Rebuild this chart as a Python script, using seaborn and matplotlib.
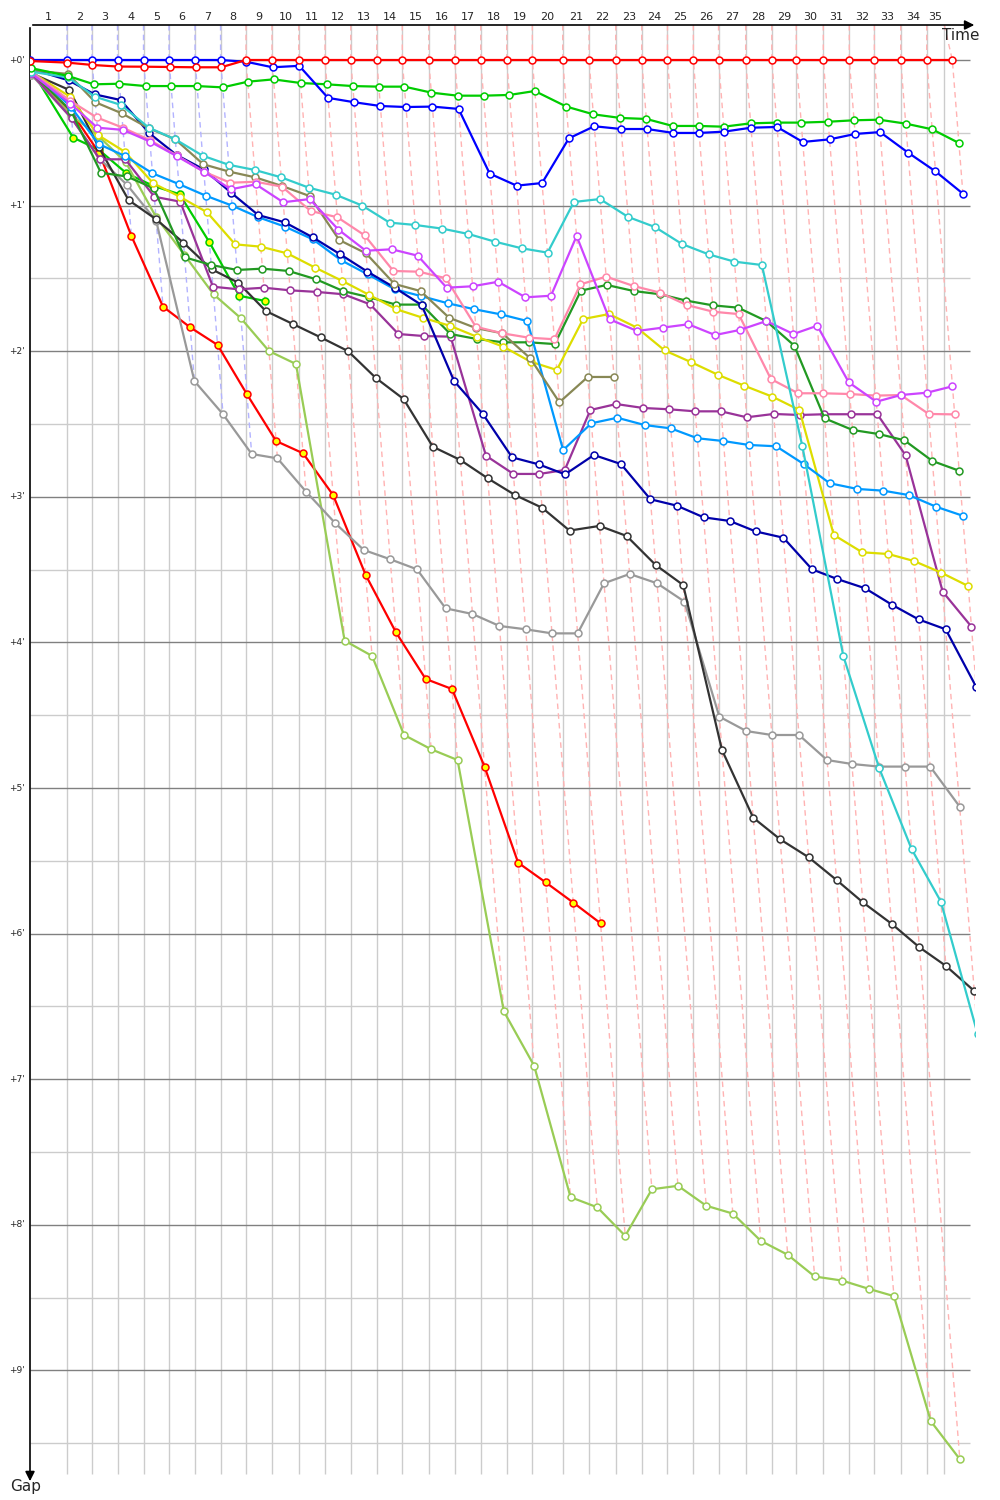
import matplotlib
matplotlib.use("Agg")
import matplotlib.pyplot as plt
import seaborn as sns
import pandas as pd

# leader's cumulative race time at the end of each lap (minutes), lap 0 = start
leader_time = [0, 3.22, 5.39, 7.61, 9.87, 12.09, 14.35, 16.57, 18.78, 21.04,
               23.37, 25.65, 27.89, 30.15, 32.37, 34.67, 36.93, 39.19, 41.45, 43.68,
               46.32, 48.61, 50.93, 53.19, 55.43, 57.68, 59.87, 62.23, 64.50, 66.63,
               68.98, 71.24, 73.42, 75.71, 77.97, 80.20]
race_end = 79.5
lap_labels = [str(i) for i in range(1, 36)]
gap_ticks = list(range(10))
gap_labels = ["+%d'" % g for g in gap_ticks]

# gap to leader (minutes) at the end of each lap completed
gap_red = [0.007, 0.018, 0.034, 0.045, 0.046, 0.048, 0.05, 0.05] + [0.0] * 28
gap_blue = [0.0, 0, 0, 0, 0, 0, 0, 0, 0.012, 0.05, 0.04, 0.26, 0.29, 0.316, 0.323, 0.32,
            0.336, 0.78, 0.863, 0.845, 0.538, 0.455, 0.474, 0.474, 0.501, 0.501, 0.492,
            0.465, 0.46, 0.563, 0.545, 0.508, 0.495, 0.636, 0.765, 0.918]
gap_green = [0.055, 0.11, 0.167, 0.163, 0.179, 0.179, 0.179, 0.188, 0.149, 0.133, 0.158,
             0.167, 0.179, 0.183, 0.183, 0.224, 0.245, 0.245, 0.24, 0.213, 0.32, 0.373,
             0.398, 0.405, 0.453, 0.453, 0.458, 0.435, 0.43, 0.43, 0.424, 0.414, 0.41,
             0.437, 0.476, 0.57]
gap_cyan = [0.08, 0.12, 0.252, 0.309, 0.465, 0.545, 0.657, 0.72, 0.755, 0.806, 0.877,
            0.925, 1.0, 1.117, 1.133, 1.158, 1.195, 1.248, 1.293, 1.323, 0.975, 0.955,
            1.078, 1.147, 1.264, 1.335, 1.385, 1.408, 2.65, 4.095, 4.865, 5.42, 5.78, 6.69]
gap_violet = [0.09, 0.3, 0.465, 0.48, 0.56, 0.66, 0.767, 0.888, 0.854, 0.977, 0.955,
              1.165, 1.31, 1.30, 1.344, 1.564, 1.554, 1.523, 1.63, 1.619, 1.209, 1.781,
              1.861, 1.838, 1.815, 1.889, 1.854, 1.793, 1.882, 1.825, 2.214, 2.347,
              2.301, 2.285, 2.241]
gap_pink = [0.08, 0.28, 0.394, 0.465, 0.55, 0.655, 0.767, 0.843, 0.836, 0.87, 1.037,
            1.08, 1.204, 1.449, 1.454, 1.499, 1.832, 1.877, 1.907, 1.918, 1.541, 1.488,
            1.552, 1.598, 1.683, 1.729, 1.745, 2.191, 2.289, 2.289, 2.294, 2.305, 2.301,
            2.431, 2.434]
gap_olive = [0.07, 0.096, 0.29, 0.366, 0.469, 0.545, 0.716, 0.767, 0.806, 0.865, 0.934,
             1.236, 1.328, 1.538, 1.587, 1.77, 1.841, 1.877, 2.049, 2.351, 2.177, 2.177]
gap_navy = [0.06, 0.14, 0.236, 0.275, 0.503, 0.652, 0.751, 0.911, 1.065, 1.115, 1.218,
            1.335, 1.454, 1.564, 1.683, 2.205, 2.429, 2.729, 2.777, 2.846, 2.713, 2.775,
            3.017, 3.061, 3.141, 3.166, 3.238, 3.281, 3.498, 3.565, 3.628, 3.743, 3.842,
            3.91, 4.306]
gap_sky = [0.07, 0.32, 0.577, 0.66, 0.778, 0.852, 0.932, 1.0, 1.08, 1.145, 1.232, 1.374,
           1.472, 1.575, 1.621, 1.671, 1.712, 1.747, 1.793, 2.679, 2.495, 2.457, 2.507,
           2.53, 2.598, 2.617, 2.644, 2.653, 2.775, 2.907, 2.946, 2.958, 2.988, 3.068, 3.13]
gap_yellow = [0.08, 0.252, 0.515, 0.63, 0.847, 0.939, 1.046, 1.266, 1.282, 1.328, 1.426,
              1.518, 1.614, 1.712, 1.77, 1.825, 1.9, 1.969, 2.072, 2.129, 1.779, 1.745,
              1.838, 1.995, 2.076, 2.163, 2.237, 2.312, 2.404, 3.262, 3.381, 3.393,
              3.441, 3.521, 3.613]
gap_darkgreen = [0.08, 0.35, 0.774, 0.8, 0.88, 1.355, 1.408, 1.442, 1.433, 1.449, 1.506,
                 1.587, 1.63, 1.68, 1.68, 1.882, 1.916, 1.939, 1.939, 1.951, 1.584, 1.545,
                 1.587, 1.609, 1.653, 1.685, 1.701, 1.793, 1.962, 2.461, 2.541, 2.569,
                 2.612, 2.754, 2.821]
gap_purple = [0.09, 0.4, 0.682, 0.682, 0.939, 0.973, 1.557, 1.575, 1.564, 1.582, 1.593,
              1.609, 1.678, 1.882, 1.896, 1.9, 2.718, 2.843, 2.843, 2.816, 2.404, 2.363,
              2.39, 2.399, 2.413, 2.413, 2.454, 2.431, 2.438, 2.433, 2.433, 2.433, 2.715,
              3.652, 3.892]
gap_black = [0.09, 0.206, 0.6, 0.962, 1.094, 1.255, 1.437, 1.529, 1.724, 1.813, 1.905,
             1.999, 2.184, 2.328, 2.656, 2.747, 2.873, 2.988, 3.075, 3.232, 3.2, 3.269,
             3.468, 3.606, 4.739, 5.204, 5.352, 5.476, 5.632, 5.785, 5.932, 6.094, 6.222,
             6.394]
gap_gray = [0.1, 0.4, 0.68, 0.86, 1.106, 2.205, 2.433, 2.706, 2.736, 2.965, 3.182, 3.365,
            3.429, 3.498, 3.766, 3.805, 3.887, 3.91, 3.938, 3.938, 3.594, 3.53, 3.594,
            3.72, 4.51, 4.609, 4.636, 4.636, 4.808, 4.835, 4.853, 4.853, 4.853, 5.128]
gap_lightgreen = [0.1, 0.38, 0.52, 0.7, 1.076, 1.339, 1.609, 1.774, 1.999, 2.088, 3.988,
                  4.093, 4.636, 4.734, 4.808, 6.535, 6.908, 7.81, 7.88, 8.076, 7.756,
                  7.732, 7.869, 7.923, 8.11, 8.206, 8.355, 8.383, 8.44, 8.49, 9.349, 9.61]
gap_redyellow = [0.08, 0.355, 0.64, 1.209, 1.694, 1.836, 1.957, 2.296, 2.617, 2.701, 2.988,
                 3.537, 3.931, 4.251, 4.32, 4.853, 5.513, 5.648, 5.787, 5.929]
gap_greenyellow = [0.06, 0.533, 0.618, 0.778, 0.865, 0.922, 1.252, 1.619, 1.655]

# (line colour, marker fill, gaps)
series = [
    ("#ff0000", "white", gap_red),
    ("#0000ff", "white", gap_blue),
    ("#00cc00", "white", gap_green),
    ("#33cccc", "white", gap_cyan),
    ("#cc44ff", "white", gap_violet),
    ("#ff88aa", "white", gap_pink),
    ("#888855", "white", gap_olive),
    ("#0000aa", "white", gap_navy),
    ("#0099ff", "white", gap_sky),
    ("#dddd00", "white", gap_yellow),
    ("#229922", "white", gap_darkgreen),
    ("#993399", "white", gap_purple),
    ("#333333", "white", gap_black),
    ("#999999", "white", gap_gray),
    ("#99cc55", "white", gap_lightgreen),
    ("#ff0000", "#ffff00", gap_redyellow),
    ("#00cc00", "#ffff00", gap_greenyellow),
]

sns.set_style("white")
plt.rcParams["font.family"] = ["DejaVu Sans"]

fig = plt.figure(figsize=(10, 15), dpi=100)
top, bottom = -0.2404, 9.739
ax = fig.add_axes([0.03, 1 - 1478 / 1500, 0.945, 1453 / 1500])
ax.set_xlim(0, 82.17)
ax.set_ylim(bottom, top)
ax.axis("off")

# grid
ticks = [0] + leader_time[1:35] + [race_end]
ax.vlines(ticks[1:], top, 9.71, color="#cccccc", lw=1, zorder=0)
for g in range(0, 20):
    ax.hlines(g / 2, 0, 81.74, color="#808080" if g % 2 == 0 else "#cccccc", lw=1, zorder=0)

# each driver's point: leader's time at that lap + gap
frames = []
for i, (col, face, gaps) in enumerate(series):
    frames.append(pd.DataFrame({"driver": i, "lap": range(len(gaps)), "gap": gaps,
                                "time": [leader_time[n] + g for n, g in enumerate(gaps)]}))
df = pd.concat(frames, ignore_index=True)

# dashed lap lines through all cars of the same lap, coloured by that lap's leader
for n in range(1, 36):
    sub = df[df["lap"] == n].sort_values("gap")
    lead_col = series[int(sub.iloc[0]["driver"])][0]
    light = "#ffb3b3" if lead_col == "#ff0000" else "#b3b3ff"
    ax.plot([ticks[n]] + list(sub["time"]), [top] + list(sub["gap"]),
            color=light, lw=1, ls=(0, (4, 3)), zorder=1)

for i in reversed(range(len(series))):
    col, face, gaps = series[i]
    d = df[df["driver"] == i]
    sns.lineplot(data=d, x="time", y="gap", ax=ax, color=col, lw=1.6, sort=False,
                 marker="o", markersize=5, markerfacecolor=face, markeredgecolor=col,
                 markeredgewidth=1.1, zorder=3 + len(series) - i)

# axes with arrows
ax.annotate("", xy=(82.35, top), xytext=(0, top), annotation_clip=False,
            arrowprops=dict(arrowstyle="-|>", color="black", lw=1.2, mutation_scale=14))
ax.annotate("", xy=(0, 9.78), xytext=(0, top), annotation_clip=False,
            arrowprops=dict(arrowstyle="-|>", color="black", lw=1.2, mutation_scale=14))
ax.text(80.9, -0.17, "Time", ha="center", va="center", fontsize=11)
ax.text(-0.4, 9.8, "Gap", ha="center", va="center", fontsize=11, clip_on=False)

for n, lab in enumerate(lap_labels, start=1):
    ax.text((ticks[n - 1] + ticks[n]) / 2, -0.295, lab, ha="center", va="center",
            fontsize=8, clip_on=False)
for g, lab in zip(gap_ticks, gap_labels):
    ax.text(-0.45, g, lab, ha="right", va="center", fontsize=6.5, clip_on=False)

fig.savefig("out.png", dpi=100)
